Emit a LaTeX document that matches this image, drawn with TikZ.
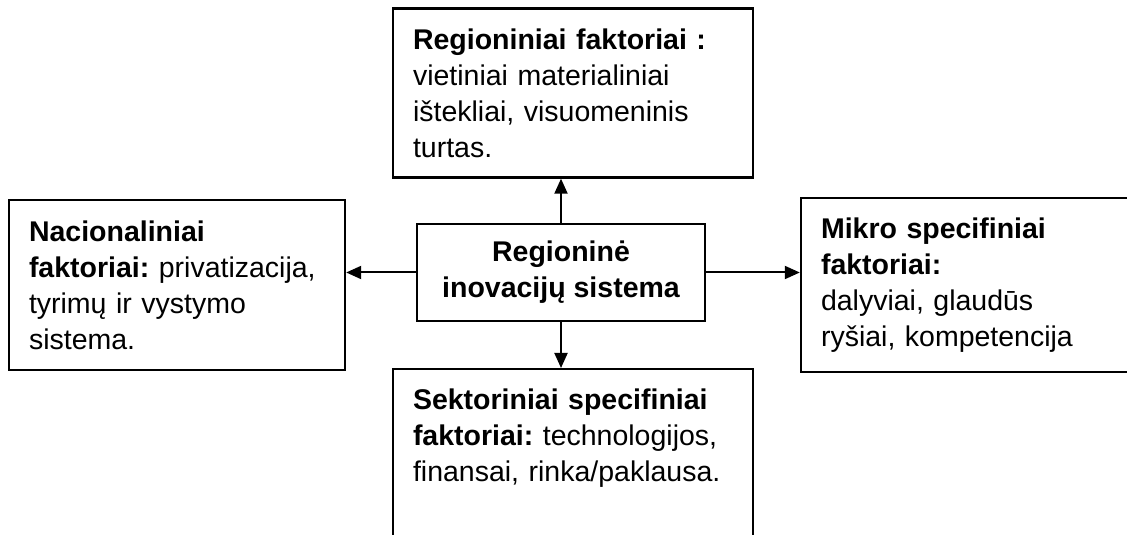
\documentclass[tikz,border=0pt]{standalone}
\usepackage{fontspec}
\setmainfont{Liberation Sans}
\usepackage{tikz}
\usetikzlibrary{positioning,arrows.meta}
\usepackage{xcolor}
\definecolor{ink}{HTML}{000000}
\frenchspacing

\begin{document}
\begin{tikzpicture}[x=1pt, y=1pt, >={Triangle[length=15pt,width=13pt]},
    font=\fontsize{28.5}{36}\selectfont,
    factorbox/.style={draw=ink, line width=2.4pt, inner xsep=20pt, inner ysep=20pt, align=left},
    arr/.style={->, draw=ink, line width=2pt}]
        \useasboundingbox (0,0) rectangle (1127,535);
        % the system in the middle
        \node[draw=ink, line width=2.4pt, align=center, font=\fontsize{28.5}{36}\selectfont\bfseries,
              minimum width=288pt, minimum height=97pt, inner sep=0pt]
              (ris) at (561,262.5) {Regioninė\\inovacijų sistema};
        % the four groups of factors
        \node[factorbox, text width=320pt, minimum height=168pt]
              (reg) at (573,442) {\textbf{Regioniniai faktoriai :}\\vietiniai materialiniai\\ištekliai, visuomeninis\\turtas.};
        \node[factorbox, text width=296pt, minimum height=170pt]
              (nac) at (177,250) {\textbf{Nacionaliniai}\\\textbf{faktoriai:} privatizacija,\\tyrimų ir vystymo\\sistema.};
        \node[factorbox, text width=309pt, minimum height=170pt]
              (mik) at (975.5,250) {\textbf{Mikro specifiniai}\\\textbf{faktoriai:}\\dalyviai, glaudūs\\ryšiai, kompetencija};
        \node[factorbox, text width=320pt, text depth=150pt, anchor=north]
              (sek) at (573,167) {\textbf{Sektoriniai specifiniai}\\\textbf{faktoriai:} technologijos,\\finansai, rinka/paklausa.};
        \draw[arr] (ris.north) -- (ris.north |- reg.south);
        \draw[arr] (ris.south) -- (ris.south |- sek.north);
        \draw[arr] (ris.west) -- (ris.west -| nac.east);
        \draw[arr] (ris.east) -- (ris.east -| mik.west);
      \end{tikzpicture}
\end{document}
